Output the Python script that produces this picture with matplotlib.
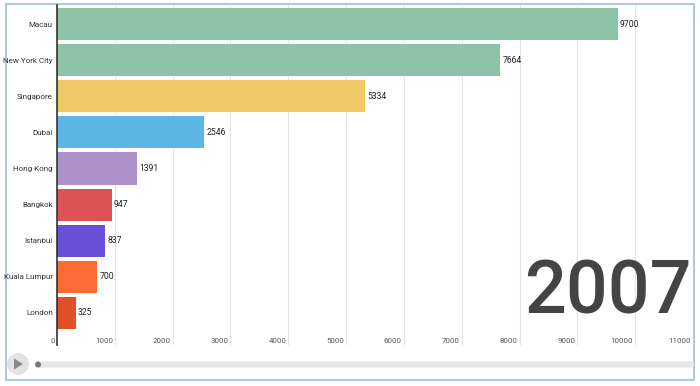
import matplotlib.pyplot as plt
import matplotlib.transforms as mtrans
from matplotlib.patches import Rectangle, Circle, Polygon, FancyBboxPatch

plt.rcParams['font.family'] = ['Roboto', 'DejaVu Sans']

# data
cities = ['Macau', 'New York City', 'Singapore', 'Dubai', 'Hong Kong',
          'Bangkok', 'Istanbul', 'Kuala Lumpur', 'London']
values = [9700, 7664, 5334, 2546, 1391, 947, 837, 700, 325]
colors = ['#8dc3a7', '#8dc3a7', '#efc867', '#5db5e5', '#ad91c8',
          '#dc5356', '#6a4fd9', '#fc6a36', '#e2502a']
year = '2007'
xticks = list(range(0, 11001, 1000))

W, H = 700, 386
fig = plt.figure(figsize=(7, 3.86), dpi=100)

# frame + player controls, drawn in pixel coords
bg = fig.add_axes([0, 0, 1, 1])
bg.set_xlim(0, W)
bg.set_ylim(H, 0)
bg.axis('off')
bg.add_patch(Rectangle((6, 4), 688, 376, fill=False, ec='#a9cfd4', lw=1.5))
bg.add_patch(FancyBboxPatch((36, 361.5), 658, 6, boxstyle='round,pad=0,rounding_size=3',
                            fc='#e6e6e6', ec='none'))
bg.add_patch(Circle((18, 364), 11, fc='#e3e3e3', ec='none'))
bg.add_patch(Polygon([(14, 358.5), (14, 369.5), (23, 364)], fc='#8a8a8a', ec='none'))
bg.add_patch(Circle((38, 364.5), 3, fc='#777777', ec='none'))

# main chart
ax = fig.add_axes([57 / W, (H - 345) / H, (693 - 57) / W, (345 - 5) / H])
ax.patch.set_alpha(0)
y = list(range(len(cities)))
ax.barh(y, values, height=0.89, color=colors, zorder=2)
for i, v in enumerate(values):
    ax.annotate(str(v), (v, i), xytext=(1.5, 0), textcoords='offset points',
                ha='left', va='center', fontsize=6.2, color='#222222')

ax.set_xlim(0, 11000)
ax.set_ylim(8.89, -0.53)
ax.set_yticks(y)
ax.set_yticklabels(cities, fontsize=5.8, color='#333333')
ax.set_xticks(xticks)
ax.set_xticklabels([str(t) for t in xticks], fontsize=5.7, color='#555555', ha='right')
ax.tick_params(axis='y', length=0, pad=3)
ax.tick_params(axis='x', length=0, pad=-5)
offset = mtrans.ScaledTranslation(-2 / 100, 0, fig.dpi_scale_trans)
for lab in ax.get_xticklabels():
    lab.set_transform(lab.get_transform() + offset)

ax.grid(axis='x', color='#e4e4e4', lw=0.8, zorder=0)
for s in ['top', 'right', 'bottom']:
    ax.spines[s].set_visible(False)
ax.spines['left'].set_color('#333333')
ax.spines['left'].set_linewidth(1.2)
ax.spines['left'].set_zorder(3)

ax.text(0.998, 0.093, year, transform=ax.transAxes, ha='right', va='baseline',
        fontsize=53, fontweight='medium', color='#444444')

fig.savefig('out.png', dpi=100)
